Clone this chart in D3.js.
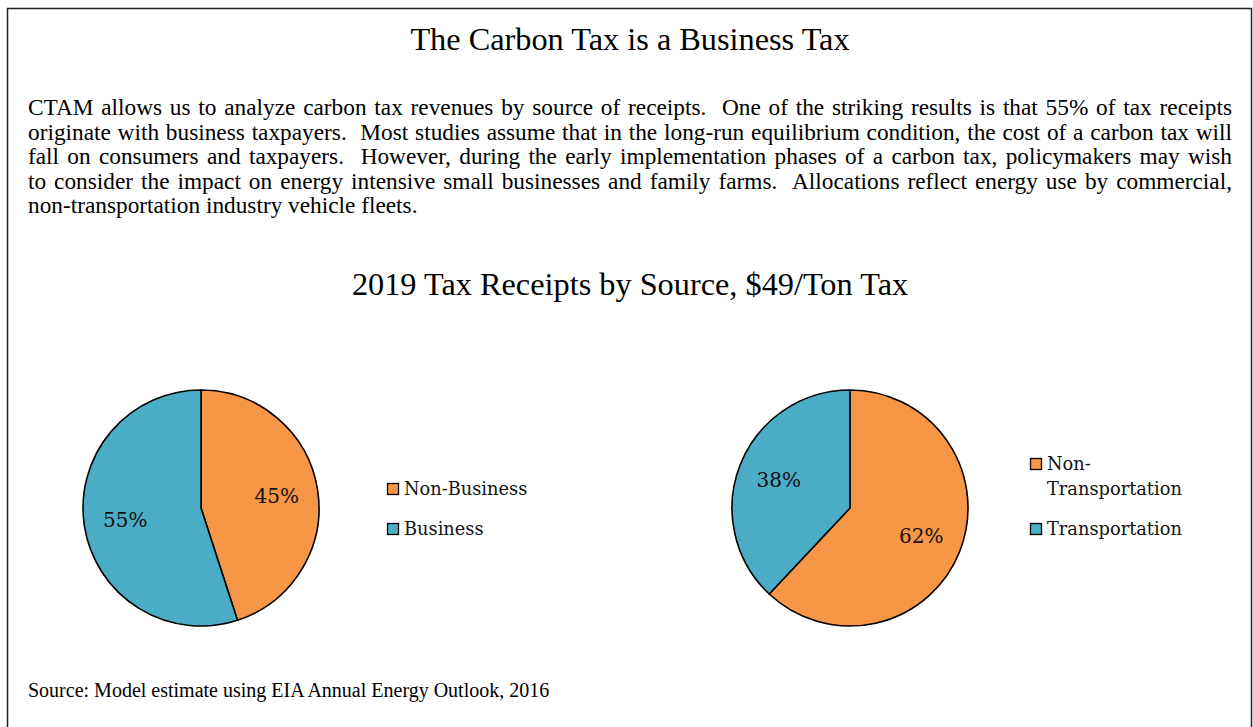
<!DOCTYPE html>
<html><head><meta charset="utf-8">
<script src="https://cdn.jsdelivr.net/npm/d3@7"></script>
<style>body{margin:0;background:#fff;overflow:hidden}</style>
</head><body><svg id="c" width="1253" height="727"></svg>
<script>
const title = "The Carbon Tax is a Business Tax";
const paragraphLines = [
  "CTAM allows us to analyze carbon tax revenues by source of receipts.  One of the striking results is that 55% of tax receipts",
  "originate with business taxpayers.  Most studies assume that in the long-run equilibrium condition, the cost of a carbon tax will",
  "fall on consumers and taxpayers.  However, during the early implementation phases of a carbon tax, policymakers may wish",
  "to consider the impact on energy intensive small businesses and family farms.  Allocations reflect energy use by commercial,",
  "non-transportation industry vehicle fleets."
];
const subtitle = "2019 Tax Receipts by Source, $49/Ton Tax";
const sourceNote = "Source: Model estimate using EIA Annual Energy Outlook, 2016";

const leftCategories = ["Non-Business", "Business"];
const leftLegendLines = [["Non-Business"], ["Business"]];
const leftValues = [45, 55];

const rightCategories = ["Non-Transportation", "Transportation"];
const rightLegendLines = [["Non-", "Transportation"], ["Transportation"]];
const rightValues = [62, 38];

const sliceColors = ["#F79646", "#4BACC6"];

const svg = d3.select("#c");
const serif = "'Liberation Serif','Times New Roman',serif";
const chartFont = "'DejaVu Serif',serif";

// frame
svg.append("rect").attr("x", 7.5).attr("y", 8.5).attr("width", 1244).attr("height", 740)
  .attr("fill", "none").attr("stroke", "#222").attr("stroke-width", 1.5);

svg.append("text").attr("x", 630).attr("y", 50).attr("text-anchor", "middle")
  .style("font-family", serif).style("font-size", "32.3px").text(title);

// justified paragraph
const pLeft = 28, pWidth = 1204, pTop = 115, pLead = 24.6;
paragraphLines.forEach((line, i) => {
  const t = svg.append("text").attr("x", pLeft).attr("y", pTop + i * pLead)
    .style("font-family", serif).style("font-size", "23.3px").style("white-space", "pre")
    .text(line);
  if (i < paragraphLines.length - 1) {
    const w = t.node().getComputedTextLength();
    const spaces = (line.match(/ /g) || []).length;
    t.attr("word-spacing", ((pWidth - w) / spaces).toFixed(3));
  }
});

svg.append("text").attr("x", 630).attr("y", 295).attr("text-anchor", "middle")
  .style("font-family", serif).style("font-size", "32.3px").text(subtitle);

svg.append("text").attr("x", 28).attr("y", 697)
  .style("font-family", serif).style("font-size", "20px").text(sourceNote);

function drawPie(cx, cy, r, cats, vals, legendLines, legendX) {
  const g = svg.append("g").attr("transform", `translate(${cx},${cy})`);
  const pie = d3.pie().sort(null).value(d => d);
  const arcs = pie(vals);
  const arc = d3.arc().innerRadius(0).outerRadius(r);
  const labelArc = d3.arc().innerRadius(r * 0.65).outerRadius(r * 0.65);
  const color = d3.scaleOrdinal().domain(cats).range(sliceColors);
  g.selectAll("path").data(arcs).join("path")
    .attr("d", arc).attr("fill", (d, i) => color(cats[i]))
    .attr("stroke", "#000").attr("stroke-width", 1.6).attr("stroke-linejoin", "round");
  g.selectAll("text.lbl").data(arcs).join("text").attr("class", "lbl")
    .attr("transform", d => `translate(${labelArc.centroid(d)})`)
    .attr("text-anchor", "middle").attr("dy", "0.36em")
    .style("font-family", chartFont).style("font-size", "20px").style("fill", "#111")
    .text(d => d.data + "%");
  const lg = svg.append("g");
  cats.forEach((c, i) => {
    const lines = legendLines[i];
    const lastBase = cy - 13 + 40 * i;
    const firstBase = lastBase - 25 * (lines.length - 1);
    lg.append("rect").attr("x", legendX + 0.5).attr("y", firstBase - 11.5).attr("width", 11).attr("height", 11)
      .attr("fill", color(c)).attr("stroke", "#000").attr("stroke-width", 1.3);
    lines.forEach((ln, j) => {
      lg.append("text").attr("x", legendX + 17).attr("y", firstBase + 25 * j)
        .style("font-family", chartFont).style("font-size", "17.8px").style("fill", "#111").text(ln);
    });
  });
}

drawPie(201, 508, 118, leftCategories, leftValues, leftLegendLines, 387);
drawPie(850, 508, 118, rightCategories, rightValues, rightLegendLines, 1030);
</script></body></html>
